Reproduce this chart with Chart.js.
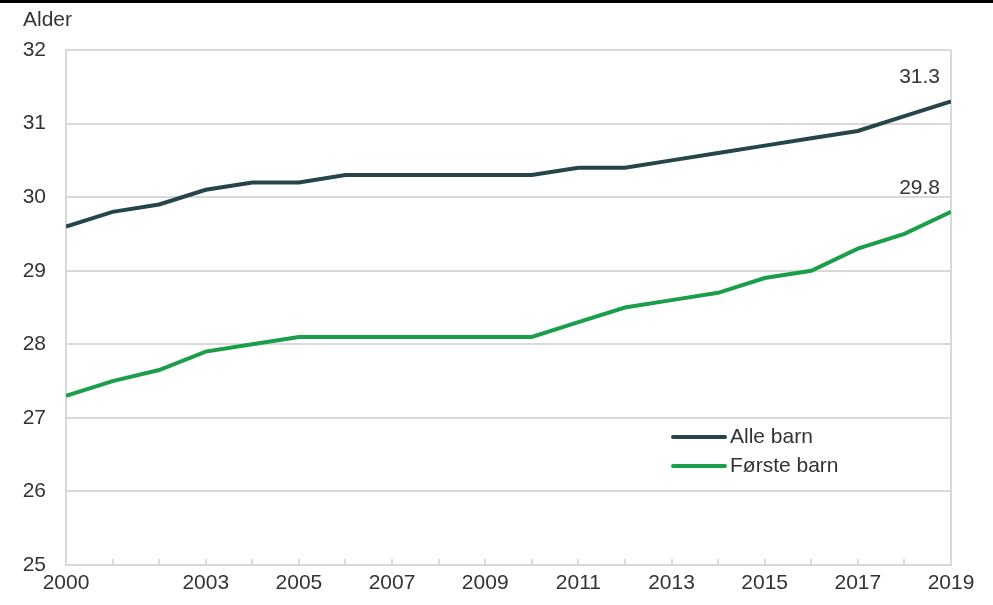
<!DOCTYPE html>
<html>
<head>
<meta charset="utf-8">
<script src="https://cdn.jsdelivr.net/npm/chart.js@4/dist/chart.umd.min.js"></script>
<style>
    body { margin: 0; background: #fff; }
    #wrap { position: relative; width: 993px; height: 605px; }
    #topline { position: absolute; left: 0; top: 0; width: 993px; height: 3px; background: #000; }
</style>
</head>
<body>
<div id="wrap">
    <canvas id="age_canvas" width="993" height="605"></canvas>
    <div id="topline"></div>
</div>
<script>
var years = [2000, 2001, 2002, 2003, 2004, 2005, 2006, 2007, 2008, 2009,
             2010, 2011, 2012, 2013, 2014, 2015, 2016, 2017, 2018, 2019];
var alleBarn = [29.6, 29.8, 29.9, 30.1, 30.2, 30.2, 30.3, 30.3, 30.3, 30.3,
                30.3, 30.4, 30.4, 30.5, 30.6, 30.7, 30.8, 30.9, 31.1, 31.3];
var forsteBarn = [27.3, 27.5, 27.65, 27.9, 28.0, 28.1, 28.1, 28.1, 28.1, 28.1,
                  28.1, 28.3, 28.5, 28.6, 28.7, 28.9, 29.0, 29.3, 29.5, 29.8];
var labelYears = [2000, 2003, 2005, 2007, 2009, 2011, 2013, 2015, 2017, 2019];
var seriesNames = ["Alle barn", "Første barn"];
var seriesColors = ["#264549", "#1b9e4a"];

var FAMILY = "'Liberation Sans', Arial, sans-serif";
var FONT = "21px " + FAMILY;
var TEXT = "#333333";
var GRID = "#d9d9d9";

function points(values) {
    return years.map(function (y, i) { return { x: y, y: values[i] }; });
}

// axis title, small tick marks, end labels and the legend box
var extras = {
    id: "extras",
    afterDatasetsDraw: function (chart) {
        var ctx = chart.ctx;
        var xs = chart.scales.x;
        var ys = chart.scales.y;
        var area = chart.chartArea;
        ctx.save();

        // tick marks pointing up from the x axis
        ctx.strokeStyle = GRID;
        ctx.lineWidth = 2;
        years.forEach(function (y) {
            var px = Math.round(xs.getPixelForValue(y));
            ctx.beginPath();
            ctx.moveTo(px, area.bottom);
            ctx.lineTo(px, area.bottom - 6);
            ctx.stroke();
        });

        ctx.font = FONT;
        ctx.fillStyle = TEXT;
        ctx.textBaseline = "middle";
        ctx.textAlign = "left";
        ctx.fillText("Alder", 23, 20);

        // value of the last point of each series
        ctx.textAlign = "right";
        chart.data.datasets.forEach(function (ds) {
            var last = ds.data[ds.data.length - 1];
            var px = xs.getPixelForValue(last.x);
            var py = ys.getPixelForValue(last.y);
            ctx.fillText(last.y.toFixed(1), px - 11, py - 24);
        });

        // legend inside the plot
        chart.data.datasets.forEach(function (ds, i) {
            var ly = 437 + i * 29;
            ctx.strokeStyle = ds.borderColor;
            ctx.lineWidth = 4;
            ctx.lineCap = "round";
            ctx.beginPath();
            ctx.moveTo(673, ly);
            ctx.lineTo(725, ly);
            ctx.stroke();
            ctx.textAlign = "left";
            ctx.fillStyle = TEXT;
            ctx.fillText(ds.label, 730, ly);
        });
        ctx.restore();
    },
};

var ageChart = new Chart(document.getElementById("age_canvas"), {
    type: "line",
    data: {
        datasets: [
            {
                label: seriesNames[0],
                data: points(alleBarn),
                borderColor: seriesColors[0],
                borderWidth: 4,
                pointRadius: 0,
                tension: 0,
            },
            {
                label: seriesNames[1],
                data: points(forsteBarn),
                borderColor: seriesColors[1],
                borderWidth: 4,
                pointRadius: 0,
                tension: 0,
            },
        ],
    },
    options: {
        responsive: false,
        animation: false,
        layout: {
            padding: { top: 50, right: 42, bottom: 0, left: 0 },
        },
        plugins: {
            legend: { display: false },
            tooltip: { enabled: false },
        },
        scales: {
            x: {
                type: "linear",
                min: 2000,
                max: 2019,
                afterFit: function (scale) { scale.height = 40; },
                ticks: {
                    stepSize: 1,
                    autoSkip: false,
                    maxRotation: 0,
                    padding: 6,
                    color: TEXT,
                    font: { family: FAMILY, size: 21 },
                    callback: function (value) {
                        return labelYears.indexOf(value) >= 0 ? String(value) : "";
                    },
                },
                grid: {
                    drawTicks: false,
                    lineWidth: 2,
                    color: function (c) {
                        return c.tick && c.tick.value === 2019 ? GRID : "rgba(0,0,0,0)";
                    },
                },
                border: { display: true, color: GRID, width: 2 },
            },
            y: {
                min: 25,
                max: 32,
                afterFit: function (scale) { scale.width = 66; },
                ticks: {
                    stepSize: 1,
                    padding: 20,
                    color: TEXT,
                    font: { family: FAMILY, size: 21 },
                },
                grid: {
                    drawTicks: false,
                    color: GRID,
                    lineWidth: 2,
                },
                border: { display: true, color: GRID, width: 2 },
            },
        },
    },
    plugins: [extras],
});
</script>
</body>
</html>
